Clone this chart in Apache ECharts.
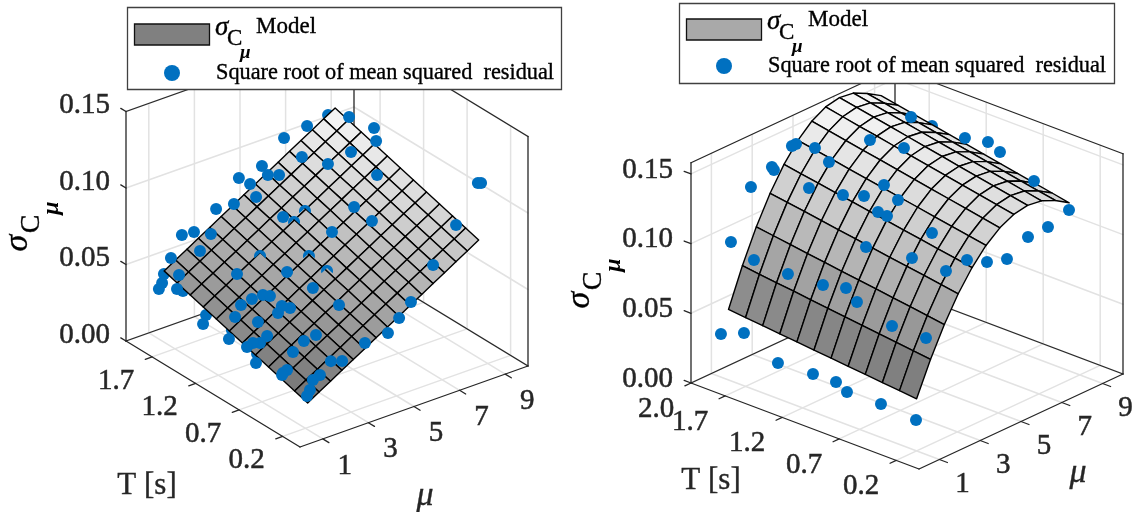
<!DOCTYPE html>
<html><head><meta charset="utf-8">
<style>html,body{margin:0;padding:0;background:#fff}#c{width:1134px;height:512px}</style>
<script src="https://cdn.jsdelivr.net/npm/echarts@6/dist/echarts.min.js"></script>
</head><body><div id="c"></div>
<script>
// ---------- tick values ----------
const leftSigmaTicks=[0,0.05,0.10,0.15], rightSigmaTicks=[0,0.05,0.10,0.15];
const leftTTicks=[0.2,0.7,1.2,1.7], rightTTicks=[0.2,0.7,1.2,1.7,2.0];
const muTicks=[1,3,5,7,9];
// ---------- model surface grids ----------
const surfaceT=[0.2,0.35,0.5,0.65,0.8,0.95,1.1,1.25,1.4,1.55,1.7,1.85];
const leftSurfaceMu=[1.1,1.6,2.1,2.6,3.1,3.6,4.1,4.6,5.1,5.6,6.1,6.6,7.1,7.6,8.1,8.6];
const rightSurfaceMu=[1,1.68,2.36,3.04,3.72,4.4,5.08,5.76,6.44,7.12,7.8,8.48];
const leftSurface=[
[.016,.0187,.0213,.024,.0266,.0293,.0319,.0346,.0372,.0399,.0425,.0452],
[.0205,.0232,.0258,.0285,.0311,.0338,.0364,.0391,.0417,.0444,.047,.0497],
[.0249,.0276,.0302,.0329,.0355,.0382,.0408,.0435,.0461,.0488,.0514,.0541],
[.0294,.0321,.0347,.0374,.04,.0427,.0453,.048,.0506,.0533,.0559,.0586],
[.0338,.0365,.0391,.0418,.0444,.0471,.0497,.0524,.055,.0577,.0603,.063],
[.0383,.041,.0436,.0463,.0489,.0516,.0542,.0569,.0595,.0622,.0648,.0675],
[.0427,.0454,.048,.0507,.0533,.056,.0586,.0613,.0639,.0666,.0692,.0719],
[.0472,.0499,.0525,.0552,.0578,.0605,.0631,.0658,.0684,.0711,.0737,.0764],
[.0516,.0543,.0569,.0596,.0622,.0649,.0675,.0702,.0728,.0755,.0781,.0808],
[.0561,.0588,.0614,.0641,.0667,.0694,.072,.0747,.0773,.08,.0826,.0853],
[.0605,.0632,.0658,.0685,.0711,.0738,.0764,.0791,.0817,.0844,.087,.0897],
[.065,.0677,.0703,.073,.0756,.0783,.0809,.0836,.0862,.0889,.0915,.0942],
[.0694,.0721,.0747,.0774,.08,.0827,.0853,.088,.0906,.0933,.0959,.0986],
[.0739,.0766,.0792,.0819,.0845,.0872,.0898,.0925,.0951,.0978,.1004,.1031],
[.0783,.081,.0836,.0863,.0889,.0916,.0942,.0969,.0995,.1022,.1048,.1075],
[.0828,.0855,.0881,.0908,.0934,.0961,.0987,.1014,.104,.1067,.1093,.112]];
const rightSurface=[
[.0374,.0386,.0398,.041,.0422,.0434,.0446,.0458,.047,.0482,.0494,.0506],
[.061,.0625,.064,.0654,.0669,.0684,.0699,.0714,.0729,.0743,.0758,.0773],
[.0814,.0831,.0849,.0866,.0884,.0901,.0918,.0936,.0953,.097,.0988,.1005],
[.0988,.1007,.1027,.1046,.1065,.1084,.1104,.1123,.1142,.1162,.1181,.12],
[.113,.1151,.1172,.1193,.1214,.1235,.1256,.1277,.1298,.1319,.134,.1361],
[.1242,.1264,.1287,.1309,.1331,.1353,.1376,.1398,.142,.1443,.1465,.1487],
[.1322,.1345,.1369,.1392,.1415,.1438,.1462,.1485,.1508,.1532,.1555,.1578],
[.1372,.1396,.142,.1443,.1467,.1491,.1515,.1539,.1563,.1586,.161,.1634],
[.139,.1414,.1438,.1462,.1486,.151,.1535,.1559,.1583,.1607,.1631,.1655],
[.1377,.1401,.1425,.1449,.1473,.1497,.1521,.1545,.1569,.1593,.1617,.1641],
[.1333,.1356,.138,.1403,.1427,.145,.1474,.1497,.1521,.1544,.1568,.1591],
[.127,.1294,.1317,.1341,.1364,.1388,.1412,.1435,.1459,.1482,.1506,.153]];
// ---------- residual points [T, mu, sigma] ----------
const leftDotsFront=[[1.9,6.55,.1014],[1.9,5.58,.0883],[1.9,4.57,.0858],[1.9,5.06,.0793],[1.8,5.46,.0865],[1.7,5.57,.0894],[1.7,4.56,.0804],[1.8,3.97,.0754],[1.9,3.57,.0708],[1.9,2.6,.0609],[1.9,2.07,.0618],[1.8,2.96,.0612],[1.7,2.1,.0581],[1.5,4.98,.072],[1.9,1.59,.0493],[1.9,7.56,.104],[1.7,8.64,.111],[1.5,8.97,.109],[1.4,8.68,.1056],[1.7,6.57,.0959],[1.5,7.96,.0987],[1.5,6.95,.0962],[1.2,7.96,.0941],[.5,9.71,.1038],[.5,9.85,.1031],[1.1,6.57,.084],[.9,6.59,.0816],[.4,8.37,.0869],[1.1,5.6,.0727],[.3,6.98,.0716],[1.1,3.63,.0571],[.9,4,.0516],[.6,4,.0508],[.9,3,.0438],[.9,2.64,.047],[.9,2.47,.0433],[.2,5.63,.058],[.2,5.11,.0503],[.2,4.62,.0431],[.2,3.61,.042],[.6,2.99,.0366],[.6,2.46,.0355],[.6,1.98,.0308],[.3,2.5,.0325],[.2,2.61,.0355],[.3,2.02,.0259],[.3,1.71,.0243],[.5,1.34,.0259],[.5,1.16,.0249],[.3,1.58,.0185],[.2,1.07,.0207],[1.7,1.18,.0473],[1.8,.82,.0405],[1.8,.68,.0373],[1.6,.71,.0441],[1.3,.71,.0316],[1.4,2.58,.0509],[1.1,2.09,.0476],[1.2,1.99,.0407],[1.1,2.57,.0476],[1.1,2.88,.0454],[1.1,1.35,.0397],[1,1.97,.0366],[1,.7,.0322],[.8,1.61,.0363],[.8,1.3,.0334],[.9,1.37,.0295],[.9,1.11,.0283],[.7,.74,.0267],[.5,1.12,.0238]];
const leftDotsBehind=[[1.8,8.1,.1118],[1.7,8.46,.1094],[1.8,.9,.0459],[1.6,.97,.0414],[1.4,1.61,.0397],[1.3,.84,.0368],[1.1,1.21,.032],[.8,1.17,.0269]];
const leftDotsHalfHidden=[[1.4,3.59,.0573],[1.4,5.56,.0763],[1.4,5.08,.0717],[1.1,4.59,.0624],[.9,4.62,.0594]];
const rightDotsFront=[[.2,.97,.0224],[.5,.93,.0249],[.8,.94,.0242],[.9,.96,.0281],[1.1,.95,.0278],[1.4,.91,.0267],[1.7,.92,.0389],[1.9,.91,.0321],
[.2,1.46,.0778],[.5,1.47,.0771],[.8,1.43,.0854],[.9,1.45,.0922],[1.1,1.44,.0882],[1.4,1.4,.0872],[1.7,1.41,.0879],[1.9,1.4,.0947],
[.2,2.44,.1192],[.5,2.45,.1192],[.8,2.46,.1429],[.9,2.43,.1149],[1.1,2.42,.1461],[1.4,2.43,.1418],[1.7,2.39,.1458],[1.7,2.29,.1486],[1.9,2.38,.1275],
[.2,3.47,.1201],[.5,3.43,.1305],[.8,3.44,.1448],[.9,3.46,.1301],[1.1,3.45,.1384],[1.4,3.41,.1538],[1.7,3.47,.157],[1.7,3.27,.157],
[.2,4.45,.112],[1.1,4.43,.1396],[1.7,4.4,.1478],[1.4,5.42,.1559],[1.1,5.41,.1595],[.2,5.43,.1075],[.2,6.46,.1162],[.2,7.44,.1167],[.2,8.47,.1219],[.5,8.43,.1337],[.8,8.44,.1452],[.9,8.41,.1495],[1.1,8.4,.1463],[1.6,8.55,.1449]];
const rightDotsBehind=[[.9,4.49,.1353],[1.1,6.98,.1244],[1.4,8.46,.1452]];

// ---------- panel views ----------
const leftView={o:[300,447],T:[-87,-53],mu:[22.8,-8.1],s:-1530,sMax:.15,sLo:.016,sHi:.112};
const rightView={o:[919,469],T:[-114,-43],mu:[20.4,-9.5],s:-1394,sMax:.158,sLo:.0374,sHi:.1655};
const project=(v,T,mu,s)=>[v.o[0]+v.T[0]*T+v.mu[0]*mu, v.o[1]+v.T[1]*T+v.mu[1]*mu+v.s*s];
const SERIF='"Liberation Serif","Times New Roman",serif', DARK='#262626', GRID='#e2e2e2', BLUE='#0070C0';
const grayOf=(v,s)=>{const f=Math.max(0,Math.min(1,(s-v.sLo)/(v.sHi-v.sLo)));const g=Math.round(114+f*134);return `rgb(${g},${g},${g})`;};

function custom(data,render,z){return {type:'custom',coordinateSystem:'cartesian2d',clip:false,silent:true,z,data,renderItem:render,animation:false,encode:{x:0,y:1}};}

function lineSeries(v,segs,color,width,z){
  return custom(segs,(p,api)=>{const q=segs[p.dataIndex];
    const a=api.coord(project(v,q[0],q[1],q[2])),b=api.coord(project(v,q[3],q[4],q[5]));
    return {type:'line',shape:{x1:a[0],y1:a[1],x2:b[0],y2:b[1]},style:{stroke:color,lineWidth:width,lineCap:'round'}};},z);
}
function gridSegs(v,sTicks,TTicks){const m=v.sMax,out=[];
  sTicks.forEach(s=>{out.push([2,0,s,2,10,s],[2,10,s,0,10,s]);});
  muTicks.forEach(u=>{out.push([2,u,0,2,u,m],[2,u,0,0,u,0]);});
  TTicks.filter(t=>t<2).forEach(t=>{out.push([t,10,0,t,10,m],[t,0,0,t,10,0]);});
  return out;}
function frameSegs(v,sTicks,TTicks,tT,tMu,tS){const m=v.sMax,out=[
  [2,0,0,2,0,m],[0,10,0,0,10,m],[2,10,0,2,10,m],
  [2,0,0,0,0,0],[0,0,0,0,10,0],[2,0,0,2,10,0],[2,10,0,0,10,0],
  [2,0,m,2,10,m],[2,10,m,0,10,m]];
  sTicks.forEach(s=>out.push([2,0,s,2+tS,0,s]));
  TTicks.forEach(t=>out.push([t,0,0,t,-tT,0]));
  muTicks.forEach(u=>out.push([0,u,0,-tMu,u,0]));
  return out;}
function surfaceCells(T,Mu,S){const out=[];
  for(let r=Mu.length-2;r>=0;r--)for(let c=T.length-2;c>=0;c--)
    out.push([T[c],T[c+1],Mu[r],Mu[r+1],S[r][c],S[r][c+1],S[r+1][c+1],S[r+1][c]]);
  return out;}
function surfaceSeries(v,cells,z){
  return custom(cells,(p,api)=>{const q=cells[p.dataIndex];
    const pts=[[q[0],q[2],q[4]],[q[1],q[2],q[5]],[q[1],q[3],q[6]],[q[0],q[3],q[7]]].map(a=>api.coord(project(v,a[0],a[1],a[2])));
    return {type:'polygon',shape:{points:pts},style:{fill:grayOf(v,(q[4]+q[5]+q[6]+q[7])/4),stroke:'#000',lineWidth:1.4,lineJoin:'round'}};},z);
}
function dotSeries(v,name,dots,z){
  return {type:'scatter',name,z,silent:true,animation:false,symbolSize:12,itemStyle:{color:BLUE,opacity:1},
    data:dots.map(d=>project(v,d[0],d[1],d[2]))};
}
function capSeries(v,dots,z){ // a residual point mostly hidden below a peak of the mesh
  return custom(dots,(p,api)=>{const d=dots[p.dataIndex];const c=api.coord(project(v,d[0],d[1],d[2]));const pts=[];
    for(let i=0;i<48;i++){const a=i/48*Math.PI*2;const x=c[0]+6*Math.cos(a);let y=c[1]+6*Math.sin(a);
      const lim=c[1]-3+0.95*Math.abs(x-c[0]);if(y>lim)y=lim;pts.push([x,y]);}
    return {type:'polygon',shape:{points:pts},style:{fill:BLUE}};},z);
}
function labelSeries(v,items,dx,dy,align,size,z){
  return custom(items,(p,api)=>{const q=items[p.dataIndex];const c=api.coord(project(v,q[0],q[1],q[2]));
    return {type:'text',style:{text:q[3],x:c[0]+dx,y:c[1]+dy,align,verticalAlign:'middle',font:`${size}px ${SERIF}`,fill:DARK,stroke:DARK,lineWidth:.5}};},z);
}
function panel(v,sT,TT,surfT,surfMu,surf,front,behind,half,lab){
  const s=[];
  s.push(lineSeries(v,gridSegs(v,sT,TT),GRID,1.5,2));
  s.push(lineSeries(v,frameSegs(v,sT,TT,.3,.07,.06),DARK,1.3,3));
  s.push(labelSeries(v,sT.map(x=>[2,0,x,x.toFixed(2)]),lab.sx,lab.sy,'right',29,4));
  s.push(labelSeries(v,TT.map(x=>[x,0,0,x.toFixed(1)]),lab.tx,lab.ty,'center',29,4));
  s.push(labelSeries(v,muTicks.map(x=>[0,x,0,String(x)]),lab.mx,lab.my,'center',29,4));
  s.push(dotSeries(v,'Square root of mean squared  residual',behind,5));
  s.push(surfaceSeries(v,surfaceCells(surfT,surfMu,surf),6));
  if(half.length)s.push(capSeries(v,half,7));
  s.push(dotSeries(v,'Square root of mean squared  residual',front,8));
  return s;
}
const series=[].concat(
 panel(leftView,leftSigmaTicks,leftTTicks,surfaceT,leftSurfaceMu,leftSurface,leftDotsFront,leftDotsBehind,leftDotsHalfHidden,{sx:-16,sy:-6,tx:-36,ty:24,mx:22,my:27}),
 panel(rightView,rightSigmaTicks,rightTTicks,surfaceT,rightSurfaceMu,rightSurface,rightDotsFront,rightDotsBehind,[],{sx:-18,sy:-4,tx:-35,ty:26,mx:23,my:25})
);
// ---------- text and legend overlay ----------
const txt=(text,x,y,size,o={})=>({type:'text',z:100,x,y,rotation:o.rot||0,style:{text,x:0,y:0,align:o.align||'left',verticalAlign:'middle',font:`${o.bold?'bold ':''}${o.it?'italic ':''}${size}px ${SERIF}`,fill:o.fill||'#000',stroke:o.fill||'#000',lineWidth:o.lw==null?.35:o.lw}});
function legend(b){return [
 {type:'rect',z:99,shape:{x:b.x0+.5,y:b.y0+.5,width:b.x1-b.x0,height:b.y1-b.y0},style:{fill:'#fff',stroke:'#404040',lineWidth:1.3}},
 {type:'rect',z:100,shape:{x:b.x0+7.5,y:b.py,width:75,height:21},style:{fill:b.patch,stroke:'#111',lineWidth:1.3}},
 txt('σ',b.x0+88,b.sy,27,{it:1}), txt('C',b.x0+100,b.sy+11,23), txt('μ',b.x0+113,b.sy+25,19,{it:1,bold:1,lw:0}),
 txt('Model',b.x0+129,b.my,23),
 {type:'circle',z:100,shape:{cx:b.x0+45,cy:b.dy,r:8},style:{fill:BLUE}},
 txt('Square root of mean squared  residual',b.x0+89,b.dy,22.3)
];}
function yLabel(dx,dy){const r=Math.PI/2;return [
 txt('σ',18+dx,243+dy,34,{it:1,rot:r,align:'center'}),
 txt('C',32+dx,224+dy,28,{rot:r,align:'center'}),
 txt('μ',52+dx,208+dy,24,{it:1,bold:1,rot:r,align:'center',lw:0})];}
const graphics=[].concat(
 legend({x0:127,y0:7,x1:561,y1:89,py:24,sy:28,my:27,dy:73,patch:'#808080'}),
 legend({x0:679,y0:3,x1:1114,y1:83,py:19,sy:22,my:20,dy:66,patch:'#a9a9a9'}),
 yLabel(0,0),yLabel(562,57),
 [txt('T [s]',147,486,31,{align:'center',fill:DARK}),txt('μ',425,496,34,{it:1,align:'center',fill:DARK}),
  txt('T [s]',711,481,31,{align:'center',fill:DARK}),txt('μ',1078,473,34,{it:1,align:'center',fill:DARK})]
);
const chart=echarts.init(document.getElementById('c'),null,{renderer:'canvas'});
chart.setOption({
 animation:false,backgroundColor:'#fff',tooltip:{show:false},
 grid:{left:0,right:0,top:0,bottom:0},
 xAxis:{type:'value',min:0,max:1134,show:false},
 yAxis:{type:'value',min:0,max:512,inverse:true,show:false},
 series,graphic:{elements:graphics}
});
</script></body></html>
